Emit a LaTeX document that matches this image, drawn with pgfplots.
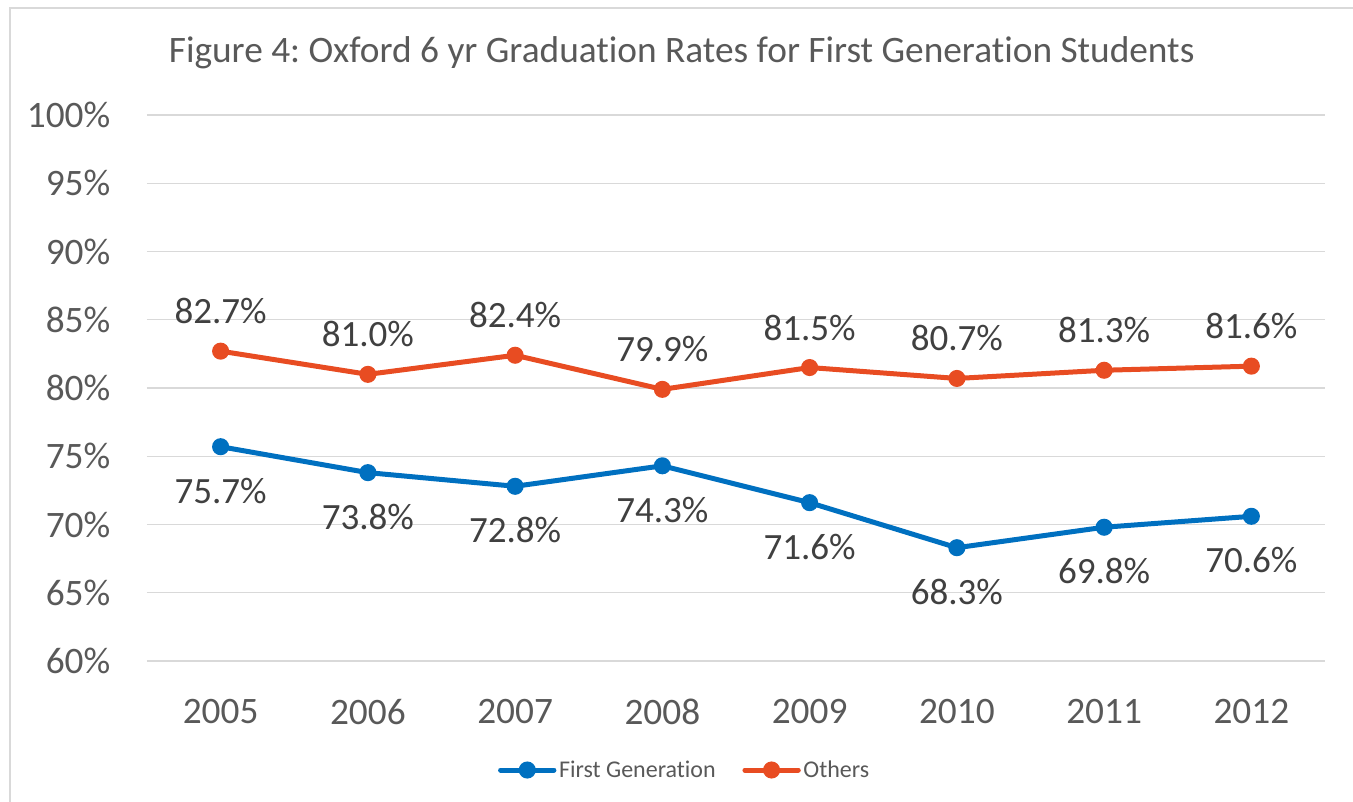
\documentclass[border=0pt]{standalone}
\usepackage{fontspec}
\setmainfont[Ligatures={NoCommon}]{Carlito}
\usepackage{pgfplots}
\pgfplotsset{compat=1.18}

\definecolor{txtgray}{HTML}{595959}
\definecolor{lblgray}{HTML}{404040}
\definecolor{gridgray}{HTML}{D9D9D9}
\definecolor{firstgen}{HTML}{0070C0}
\definecolor{others}{HTML}{E84C22}

\pgfplotstableread{
x year first others
0 2005 75.7 82.7
1 2006 73.8 81.0
2 2007 72.8 82.4
3 2008 74.3 79.9
4 2009 71.6 81.5
5 2010 68.3 80.7
6 2011 69.8 81.3
7 2012 70.6 81.6
}\rates

\begin{document}
\frenchspacing
\begin{tikzpicture}
  % 1px = 0.75pt, origin at the lower left corner of the plot area
  \useasboundingbox (-110.25pt,-105pt) rectangle (904.5pt,495.75pt);
  \draw[gridgray, line width=1.2pt] (-102.75pt,-120pt) -- (-102.75pt,489.75pt) -- (920pt,489.75pt);
  \node[txtgray, font=\fontsize{28}{32}\selectfont] at (401pt,456pt)
    {Figure 4: Oxford 6 yr Graduation Rates for First Generation Students};
  \begin{axis}[
      at={(0pt,0pt)}, anchor=south west,
      scale only axis,
      width=883.5pt, height=409.5pt,
      xmin=-0.5, xmax=7.5,
      ymin=60, ymax=100,
      xtick={0,...,7},
      xticklabels={2005,2006,2007,2008,2009,2010,2011,2012},
      ytick={60,65,...,100},
      yticklabel={\pgfmathprintnumber{\tick}\%},
      /pgf/number format/assume math mode=true,
      ymajorgrids,
      grid style={gridgray, line width=1pt},
      axis line style={draw=none},
      major tick length=0pt,
      tick label style={txtgray, font=\fontsize{28}{32}\selectfont},
      yticklabel style={xshift=-24pt},
      xticklabel style={yshift=-25pt},
      every node near coord/.append style={lblgray, font=\fontsize{27.8}{32}\selectfont},
      legend style={at={(403.5pt,-81.75pt)}, anchor=center, draw=none,
        font=\fontsize{18}{22}\selectfont, text=txtgray,
        legend columns=2, column sep=0pt,
        /tikz/every even column/.append style={column sep=18pt},
        /tikz/every node/.append style={inner xsep=2pt}},
      legend cell align=left,
      legend image code/.code={
        \draw[#1, mark=none, line cap=round] (0pt,0pt) -- (40pt,0pt);
        \fill[#1] (20pt,0pt) circle (4.5pt);
      },
      clip=false,
    ]
    \addplot[firstgen, line width=3.75pt, mark=*, mark size=4.5pt,
      nodes near coords={\pgfmathprintnumber[fixed, fixed zerofill, precision=1]{\pgfplotspointmeta}\%},
      point meta=explicit,
      every node near coord/.append style={anchor=center, yshift=-33pt}]
      table[x=x, y=first, meta=first] {\rates};
    \addplot[others, line width=3.75pt, mark=*, mark size=4.5pt,
      nodes near coords={\pgfmathprintnumber[fixed, fixed zerofill, precision=1]{\pgfplotspointmeta}\%},
      point meta=explicit,
      every node near coord/.append style={anchor=center, yshift=30pt}]
      table[x=x, y=others, meta=others] {\rates};
    \legend{First Generation, Others}
  \end{axis}
\end{tikzpicture}
\end{document}
